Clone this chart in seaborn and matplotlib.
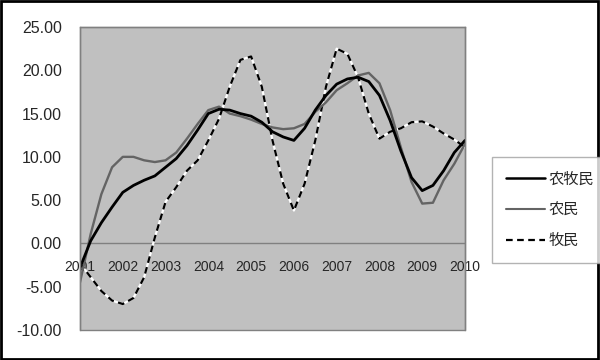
import numpy as np
import pandas as pd
import seaborn as sns
import matplotlib.pyplot as plt
from matplotlib.lines import Line2D
from matplotlib.patches import Rectangle

# quarter-year points
years = [2001.00, 2001.25, 2001.50, 2001.75, 2002.00, 2002.25, 2002.50, 2002.75,
         2003.00, 2003.25, 2003.50, 2003.75, 2004.00, 2004.25, 2004.50, 2004.75,
         2005.00, 2005.25, 2005.50, 2005.75, 2006.00, 2006.25, 2006.50, 2006.75,
         2007.00, 2007.25, 2007.50, 2007.75, 2008.00, 2008.25, 2008.50, 2008.75,
         2009.00, 2009.25, 2009.50, 2009.75, 2010.00]
nongmumin = [-2.8, 0.3, 2.4, 4.2, 5.9, 6.7, 7.3, 7.8,
             8.8, 9.8, 11.3, 13.1, 15.0, 15.5, 15.4, 15.0,
             14.7, 14.0, 12.9, 12.3, 11.9, 13.3, 15.4, 17.1,
             18.4, 19.0, 19.2, 18.7, 17.1, 14.2, 10.7, 7.6,
             6.1, 6.7, 8.4, 10.5, 11.9]
nongmin = [-4.5, 1.1, 5.7, 8.8, 10.0, 10.0, 9.6, 9.4,
           9.6, 10.5, 12.1, 13.8, 15.4, 15.8, 15.0, 14.7,
           14.3, 13.8, 13.4, 13.2, 13.3, 13.8, 15.2, 16.3,
           17.7, 18.5, 19.4, 19.7, 18.5, 15.4, 11.1, 7.1,
           4.6, 4.7, 7.3, 9.2, 11.5]
mumin = [-2.3, -3.9, -5.5, -6.6, -7.0, -6.3, -3.9, 0.7,
         4.8, 6.5, 8.4, 9.6, 11.9, 14.4, 18.1, 21.2,
         21.6, 18.1, 11.9, 6.9, 3.8, 6.9, 11.9, 18.1,
         22.5, 21.9, 19.2, 15.0, 12.1, 12.9, 13.3, 14.0,
         14.1, 13.5, 12.7, 12.0, 11.1]
year_ticks = list(range(2001, 2011))
y_ticks = [-10, -5, 0, 5, 10, 15, 20, 25]
labels = ['农牧民', '农民', '牧民']

df = pd.DataFrame({'year': years, '农牧民': nongmumin, '农民': nongmin, '牧民': mumin})

sns.set_style('white')
plt.rcParams['font.family'] = ['Liberation Sans', 'DejaVu Sans']

fig = plt.figure(figsize=(6, 3.6), dpi=100)
ax = fig.add_axes([80 / 600, 30 / 360, 385 / 600, 303 / 360])
ax.set_facecolor('#c0c0c0')

ax.axhline(0, color='#808080', lw=1, zorder=1)

# dashed line with white gaps
sns.lineplot(data=df, x='year', y='牧民', color='white', lw=1.6, ax=ax, zorder=3)
sns.lineplot(data=df, x='year', y='牧民', color='black', lw=1.6, ax=ax, zorder=4,
             linestyle=(0, (3, 2)))
sns.lineplot(data=df, x='year', y='农民', color='#646464', lw=1.7, ax=ax, zorder=5)
sns.lineplot(data=df, x='year', y='农牧民', color='black', lw=2.0, ax=ax, zorder=6)

ax.set_xlim(2001, 2010)
ax.set_ylim(-10, 25)
ax.set_xticks(year_ticks)
ax.set_xticklabels([str(y) for y in year_ticks], fontsize=11.5)
ax.set_yticks(y_ticks)
ax.set_yticklabels(['%.2f' % v for v in y_ticks], fontsize=11.5)
ax.set_xlabel('')
ax.set_ylabel('')
ax.tick_params(axis='y', length=0, pad=13)
ax.tick_params(axis='x', direction='in', length=5, width=1, color='#808080', pad=12)

# x axis sits on zero
ax.spines['bottom'].set_position(('data', 0))
ax.spines['bottom'].set_visible(False)
for s in ['left', 'top', 'right']:
    ax.spines[s].set_color('#808080')
    ax.spines[s].set_linewidth(1)
ax.add_patch(Rectangle((0, 0), 1, 1, transform=ax.transAxes, fill=False,
                       edgecolor='#808080', lw=1, zorder=10, clip_on=False))

handles = [Line2D([], [], color='black', lw=1.8),
           Line2D([], [], color='#646464', lw=1.5),
           Line2D([], [], color='black', lw=1.6, linestyle=(0, (3, 2)))]
leg = fig.legend(handles, labels, loc='upper left', bbox_to_anchor=(492 / 600, 1 - 157 / 360),
                 frameon=True, fancybox=False, edgecolor='#a0a0a0', handlelength=2.6,
                 handletextpad=0.2, labelspacing=0.9, borderpad=0.9, borderaxespad=0,
                 prop={'family': ['Noto Sans CJK SC', 'DejaVu Sans'], 'size': 11})
leg.get_frame().set_linewidth(1)

fig.patches.append(Rectangle((0.002, 0.004), 0.994, 0.992, transform=fig.transFigure,
                             fill=False, edgecolor='black', lw=2))

fig.savefig('out.png', dpi=100)
